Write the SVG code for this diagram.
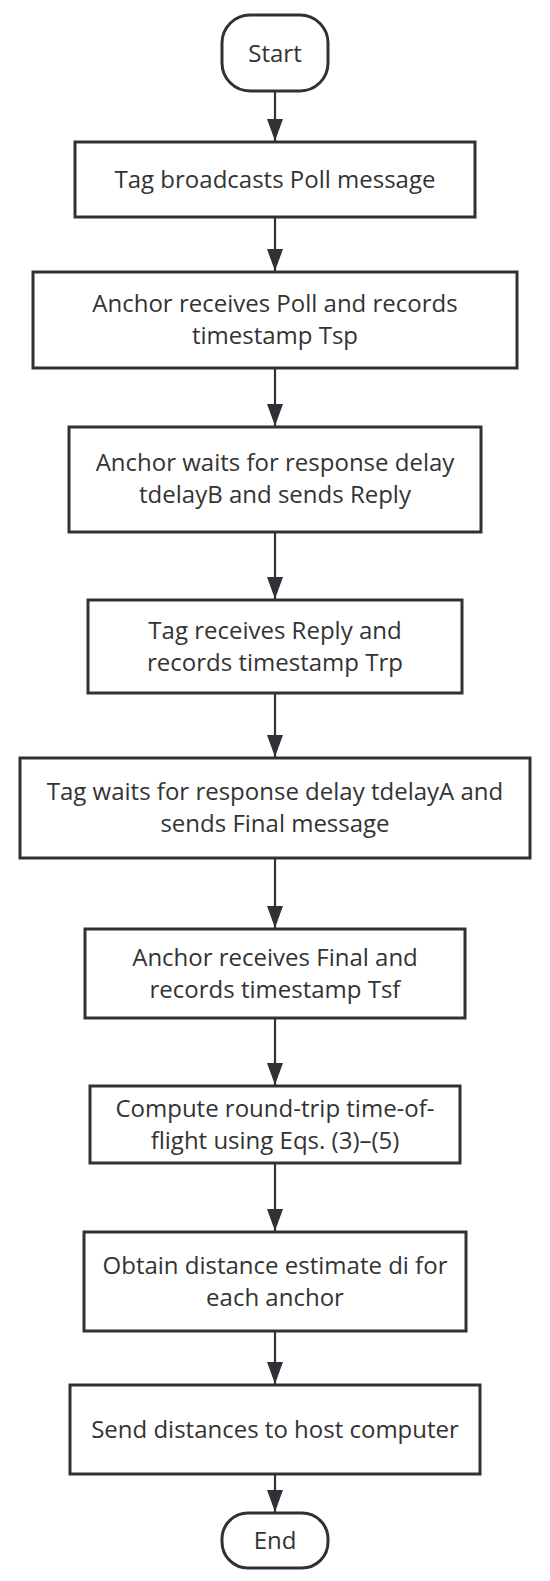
<svg xmlns="http://www.w3.org/2000/svg" width="550" height="1581" viewBox="0 0 550 1581">
<style>
.box{fill:#ffffff;stroke:#2e3236;stroke-width:3}
.t{font-family:"Open Sans","Noto Sans","Liberation Sans",sans-serif;font-size:24px;fill:#333333;text-anchor:middle}
.c{stroke:#2e3236;stroke-width:2.2;fill:none}
</style>
<defs>
<marker id="arr" markerUnits="userSpaceOnUse" viewBox="0 0 22 16" refX="22" refY="8" markerWidth="22" markerHeight="16" orient="auto">
<path d="M0,0 L22,8 L0,16 Z" fill="#2e3236"/>
</marker>
</defs>
<rect width="550" height="1581" fill="#ffffff"/>
<g id="connectors">
<line class="c" x1="275" y1="91" x2="275" y2="141" marker-end="url(#arr)"/>
<line class="c" x1="275" y1="217" x2="275" y2="271" marker-end="url(#arr)"/>
<line class="c" x1="275" y1="368" x2="275" y2="426" marker-end="url(#arr)"/>
<line class="c" x1="275" y1="532" x2="275" y2="599" marker-end="url(#arr)"/>
<line class="c" x1="275" y1="693" x2="275" y2="757" marker-end="url(#arr)"/>
<line class="c" x1="275" y1="858" x2="275" y2="928" marker-end="url(#arr)"/>
<line class="c" x1="275" y1="1018" x2="275" y2="1085" marker-end="url(#arr)"/>
<line class="c" x1="275" y1="1163" x2="275" y2="1231" marker-end="url(#arr)"/>
<line class="c" x1="275" y1="1331" x2="275" y2="1384" marker-end="url(#arr)"/>
<line class="c" x1="275" y1="1474" x2="275" y2="1512" marker-end="url(#arr)"/>
</g>
<g id="start">
<rect class="box" x="222" y="15" width="106" height="76" rx="28"/>
<text class="t" x="275" y="62">Start</text>
</g>
<g id="n1">
<rect class="box" x="75" y="142" width="400" height="75"/>
<text class="t" x="275" y="187.5">Tag broadcasts Poll message</text>
</g>
<g id="n2">
<rect class="box" x="33" y="272" width="484" height="96"/>
<text class="t" x="275" y="312">Anchor receives Poll and records</text>
<text class="t" x="275" y="344">timestamp Tsp</text>
</g>
<g id="n3">
<rect class="box" x="69" y="427" width="412" height="105"/>
<text class="t" x="275" y="471">Anchor waits for response delay</text>
<text class="t" x="275" y="503">tdelayB and sends Reply</text>
</g>
<g id="n4">
<rect class="box" x="88" y="600" width="374" height="93"/>
<text class="t" x="275" y="639">Tag receives Reply and</text>
<text class="t" x="275" y="671">records timestamp Trp</text>
</g>
<g id="n5">
<rect class="box" x="20" y="758" width="510" height="100"/>
<text class="t" x="275" y="800">Tag waits for response delay tdelayA and</text>
<text class="t" x="275" y="832">sends Final message</text>
</g>
<g id="n6">
<rect class="box" x="85" y="929" width="380" height="89"/>
<text class="t" x="275" y="965.5">Anchor receives Final and</text>
<text class="t" x="275" y="997.5">records timestamp Tsf</text>
</g>
<g id="n7">
<rect class="box" x="90" y="1086" width="370" height="77"/>
<text class="t" x="275" y="1116.5">Compute round-trip time-of-</text>
<text class="t" x="275" y="1148.5">flight using Eqs. (3)–(5)</text>
</g>
<g id="n8">
<rect class="box" x="84" y="1232" width="382" height="99"/>
<text class="t" x="275" y="1273.5">Obtain distance estimate di for</text>
<text class="t" x="275" y="1305.5">each anchor</text>
</g>
<g id="n9">
<rect class="box" x="70" y="1385" width="410" height="89"/>
<text class="t" x="275" y="1437.5">Send distances to host computer</text>
</g>
<g id="end">
<rect class="box" x="222" y="1513" width="106" height="55" rx="26"/>
<text class="t" x="275" y="1548.5">End</text>
</g>
</svg>
